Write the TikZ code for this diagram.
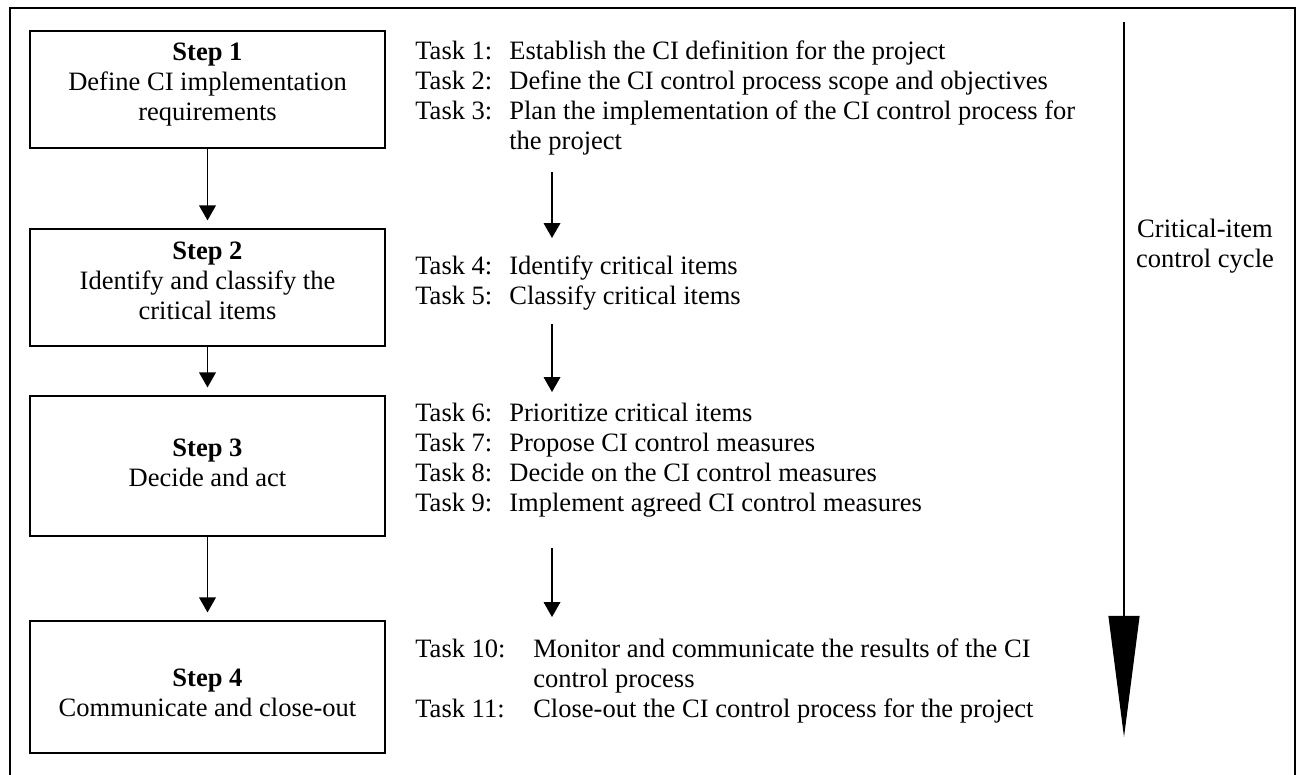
\documentclass[tikz,border=0pt]{standalone}
\usepackage{fontspec}
\setmainfont{Liberation Serif}
\usetikzlibrary{arrows.meta}

\begin{document}
\begin{tikzpicture}[x=0.02cm,y=-0.02cm,
    font=\fontsize{15.1}{17.1}\selectfont,
    stepbox/.style={shape=rectangle,draw=black,line width=0.8pt,minimum width=7.1cm,inner sep=0pt},
    steptext/.style={align=center,inner sep=0pt},
    tasklist/.style={anchor=base west,inner sep=0pt},
    flow/.style={-{Triangle[width=9.5pt,length=8.5pt]},line width=0.7pt},
    stepflow/.style={flow,shorten >=4.5pt}]
    \useasboundingbox (0,0) rectangle (1300,774);
    \draw[line width=1.6pt] (10,8) rectangle (1295,780);
    \node[stepbox,minimum height=2.34cm] (S1) at (207.5,89.5) {};
    \node[stepbox,minimum height=2.34cm] (S2) at (207.5,287.5) {};
    \node[stepbox,minimum height=2.8cm] (S3) at (207.5,466) {};
    \node[stepbox,minimum height=2.64cm] (S4) at (207.5,687) {};
    \node[steptext] (S1t) at ([yshift=2.8pt]S1.center) {\textbf{Step 1}\\Define CI implementation\\requirements};
    \node[steptext] (S2t) at ([yshift=3.6pt]S2.center) {\textbf{Step 2}\\Identify and classify the\\critical items};
    \node[steptext] (S3t) at ([yshift=1.7pt]S3.center) {\textbf{Step 3}\\Decide and act};
    \node[steptext] (S4t) at ([yshift=-3.2pt]S4.center) {\textbf{Step 4}\\Communicate and close-out};
    \draw [stepflow](S1) -- (S2);
    \draw [stepflow](S2) -- (S3);
    \draw [stepflow](S3) -- (S4);
    \node[tasklist] (T1) at (415,59) {\begin{tabular}[t]{@{}p{53.5pt}@{}l@{}}
        Task 1: & Establish the CI definition for the project\\
        Task 2: & Define the CI control process scope and objectives\\
        Task 3: & Plan the implementation of the CI control process for\\
                & the project
    \end{tabular}};
    \node[tasklist] (T2) at (415,274) {\begin{tabular}[t]{@{}p{53.5pt}@{}l@{}}
        Task 4: & Identify critical items\\
        Task 5: & Classify critical items
    \end{tabular}};
    \node[tasklist] (T3) at (415,421) {\begin{tabular}[t]{@{}p{53.5pt}@{}l@{}}
        Task 6: & Prioritize critical items\\
        Task 7: & Propose CI control measures\\
        Task 8: & Decide on the CI control measures\\
        Task 9: & Implement agreed CI control measures
    \end{tabular}};
    \node[tasklist] (T4) at (415,657) {\begin{tabular}[t]{@{}p{67.1pt}@{}l@{}}
        Task 10: & Monitor and communicate the results of the CI\\
                 & control process\\
        Task 11: & Close-out the CI control process for the project
    \end{tabular}};
    \coordinate (A1) at (552,172);
    \coordinate (B1) at (552,238);
    \coordinate (A2) at (552,324);
    \coordinate (B2) at (552,392);
    \coordinate (A3) at (552,548);
    \coordinate (B3) at (552,617);
    \draw [flow](A1) -- (B1);
    \draw [flow](A2) -- (B2);
    \draw [flow](A3) -- (B3);
    % critical-item cycle
    \coordinate (C0) at (1124,22);
    \coordinate (C1) at (1124,737);
    \draw [line width=0.7pt,-{Triangle[width=17.6pt,length=68.9pt]}](C0) -- (C1);
    \node[align=center,inner sep=0pt] (cyc) at (1205,246) {Critical-item\\control cycle};
\end{tikzpicture}
\end{document}
